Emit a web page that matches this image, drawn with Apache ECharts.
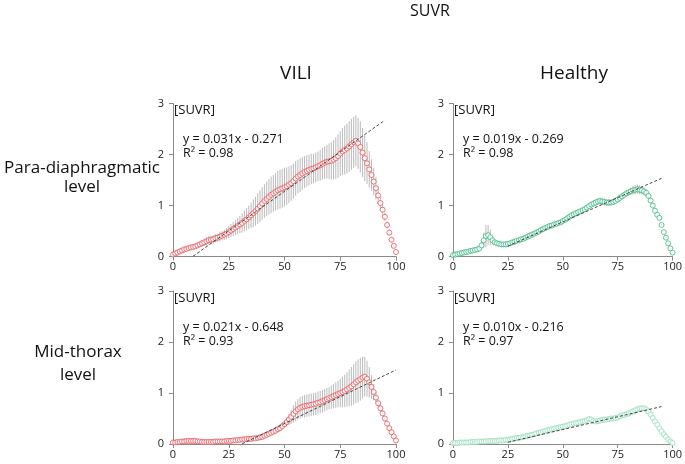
<!DOCTYPE html>
<html><head><meta charset="utf-8">
<script src="https://cdn.jsdelivr.net/npm/echarts@6/dist/echarts.min.js"></script>
<style>html,body{margin:0;padding:0;background:#fff}#c{width:685px;height:464px}</style>
</head><body><div id="c"></div>
<script>
const xs = [0,1,2,3,4,5,6,7,8,9,10,11,12,13,14,15,16,17,18,19,20,21,22,23,24,25,26,27,28,29,30,31,32,33,34,35,36,37,38,39,40,41,42,43,44,45,46,47,48,49,50,51,52,53,54,55,56,57,58,59,60,61,62,63,64,65,66,67,68,69,70,71,72,73,74,75,76,77,78,79,80,81,82,83,84,85,86,87,88,89,90,91,92,93,94,95,96,97,98,99,100];

const viliParaMean = [
0.04,0.06,0.08,0.10,0.12,0.14,0.15,0.17,0.18,0.19,
0.20,0.22,0.24,0.26,0.28,0.30,0.32,0.33,0.34,0.36,
0.37,0.39,0.41,0.43,0.45,0.48,0.51,0.54,0.57,0.60,
0.63,0.66,0.70,0.73,0.77,0.81,0.85,0.89,0.94,0.99,
1.04,1.09,1.13,1.17,1.21,1.24,1.27,1.30,1.32,1.34,
1.36,1.38,1.41,1.44,1.48,1.53,1.57,1.60,1.63,1.66,
1.68,1.70,1.72,1.73,1.75,1.77,1.79,1.82,1.84,1.86,
1.87,1.88,1.90,1.93,1.97,2.02,2.06,2.09,2.12,2.16,
2.20,2.24,2.27,2.22,2.15,2.04,1.93,1.83,1.71,1.60,
1.47,1.34,1.20,1.05,0.92,0.78,0.62,0.47,0.33,0.21,0.09];
const viliParaSD = [
0.02,0.02,0.02,0.02,0.03,0.03,0.03,0.03,0.03,0.04,
0.04,0.05,0.05,0.06,0.07,0.08,0.08,0.08,0.08,0.08,
0.08,0.09,0.09,0.10,0.11,0.12,0.13,0.14,0.15,0.16,
0.17,0.19,0.20,0.22,0.23,0.25,0.27,0.28,0.30,0.31,
0.32,0.33,0.34,0.35,0.36,0.36,0.37,0.38,0.38,0.38,
0.38,0.37,0.36,0.35,0.34,0.34,0.33,0.33,0.32,0.31,
0.31,0.30,0.30,0.29,0.29,0.29,0.30,0.31,0.32,0.33,
0.35,0.37,0.39,0.41,0.43,0.44,0.46,0.48,0.49,0.50,
0.50,0.50,0.50,0.50,0.50,0.48,0.45,0.41,0.36,0.31,
0.27,0.22,0.17,0.13,0.10,0.08,0.07,0.06,0.05,0.04,0.03];

const healthyParaMean = [
0.03,0.04,0.05,0.06,0.07,0.08,0.09,0.10,0.11,0.12,
0.13,0.14,0.16,0.22,0.32,0.40,0.42,0.38,0.32,0.28,
0.26,0.25,0.24,0.24,0.24,0.25,0.26,0.28,0.29,0.31,
0.32,0.34,0.35,0.37,0.39,0.41,0.43,0.45,0.47,0.49,
0.52,0.54,0.56,0.58,0.60,0.61,0.63,0.64,0.66,0.67,
0.70,0.72,0.75,0.78,0.81,0.83,0.85,0.87,0.89,0.91,
0.93,0.96,0.99,1.02,1.04,1.06,1.08,1.09,1.08,1.07,
1.06,1.06,1.06,1.07,1.09,1.12,1.15,1.18,1.21,1.24,
1.26,1.28,1.30,1.31,1.32,1.31,1.30,1.28,1.25,1.19,
1.10,1.00,0.90,0.82,0.76,0.62,0.48,0.37,0.26,0.16,0.08];
const healthyParaSD = [
0.01,0.01,0.01,0.01,0.01,0.01,0.01,0.01,0.01,0.01,
0.01,0.02,0.03,0.08,0.15,0.22,0.20,0.15,0.08,0.04,
0.02,0.02,0.02,0.02,0.02,0.02,0.02,0.02,0.02,0.02,
0.02,0.02,0.02,0.02,0.02,0.02,0.02,0.02,0.02,0.02,
0.02,0.02,0.02,0.02,0.02,0.03,0.03,0.03,0.03,0.03,
0.03,0.03,0.04,0.04,0.04,0.04,0.05,0.05,0.05,0.05,
0.05,0.05,0.05,0.05,0.06,0.06,0.06,0.07,0.07,0.07,
0.07,0.07,0.06,0.06,0.05,0.05,0.04,0.04,0.05,0.05,
0.06,0.07,0.08,0.09,0.09,0.09,0.08,0.08,0.07,0.05,
0.04,0.03,0.03,0.02,0.02,0.02,0.02,0.02,0.01,0.01,0.01];

const viliMidMean = [
0.03,0.03,0.04,0.04,0.05,0.05,0.06,0.06,0.06,0.06,
0.06,0.05,0.05,0.04,0.04,0.04,0.04,0.04,0.04,0.05,
0.05,0.05,0.05,0.05,0.06,0.06,0.06,0.07,0.07,0.08,
0.08,0.09,0.09,0.10,0.10,0.10,0.11,0.11,0.12,0.13,
0.14,0.16,0.18,0.20,0.22,0.24,0.26,0.29,0.31,0.35,
0.39,0.43,0.48,0.53,0.59,0.64,0.68,0.71,0.73,0.74,
0.75,0.76,0.77,0.78,0.79,0.81,0.82,0.84,0.86,0.88,
0.90,0.92,0.94,0.96,0.98,1.00,1.02,1.04,1.07,1.10,
1.13,1.17,1.21,1.24,1.27,1.30,1.32,1.28,1.21,1.12,
1.02,0.91,0.80,0.70,0.60,0.50,0.40,0.31,0.23,0.15,0.07];
const viliMidSD = [
0.01,0.01,0.01,0.01,0.01,0.02,0.02,0.02,0.02,0.02,
0.02,0.02,0.01,0.01,0.01,0.01,0.01,0.01,0.01,0.01,
0.01,0.01,0.01,0.01,0.01,0.01,0.01,0.01,0.02,0.02,
0.02,0.02,0.02,0.02,0.02,0.02,0.02,0.02,0.02,0.02,
0.02,0.02,0.03,0.03,0.03,0.03,0.04,0.04,0.05,0.06,
0.07,0.09,0.11,0.14,0.17,0.19,0.20,0.21,0.21,0.22,
0.22,0.22,0.22,0.22,0.22,0.22,0.22,0.22,0.22,0.22,
0.22,0.23,0.24,0.25,0.26,0.28,0.30,0.32,0.34,0.36,
0.38,0.40,0.41,0.42,0.42,0.41,0.39,0.35,0.30,0.23,
0.16,0.11,0.08,0.06,0.05,0.04,0.03,0.03,0.02,0.02,0.02];

const healthyMidMean = [
0.02,0.02,0.02,0.03,0.03,0.03,0.03,0.03,0.04,0.04,
0.04,0.04,0.05,0.05,0.05,0.05,0.06,0.06,0.06,0.06,
0.06,0.07,0.07,0.07,0.08,0.08,0.09,0.10,0.11,0.12,
0.12,0.13,0.14,0.15,0.16,0.17,0.18,0.19,0.21,0.22,
0.23,0.24,0.26,0.27,0.28,0.29,0.30,0.31,0.32,0.33,
0.34,0.35,0.36,0.38,0.39,0.40,0.41,0.42,0.43,0.44,
0.45,0.47,0.49,0.48,0.45,0.44,0.45,0.46,0.47,0.48,
0.48,0.49,0.50,0.50,0.51,0.52,0.54,0.56,0.57,0.58,
0.60,0.62,0.64,0.66,0.68,0.70,0.70,0.70,0.68,0.64,
0.58,0.51,0.44,0.38,0.31,0.25,0.19,0.14,0.09,0.05,0.02];
const healthyMidSD = [
0.01,0.01,0.01,0.01,0.01,0.01,0.01,0.01,0.01,0.01,
0.01,0.01,0.01,0.01,0.01,0.01,0.01,0.01,0.01,0.01,
0.01,0.01,0.01,0.01,0.01,0.01,0.01,0.01,0.01,0.01,
0.01,0.01,0.01,0.01,0.01,0.01,0.01,0.01,0.01,0.01,
0.01,0.01,0.01,0.01,0.01,0.01,0.01,0.01,0.01,0.01,
0.01,0.01,0.01,0.01,0.01,0.01,0.02,0.02,0.02,0.02,
0.03,0.03,0.04,0.05,0.05,0.05,0.05,0.05,0.05,0.05,
0.05,0.05,0.05,0.05,0.05,0.04,0.03,0.02,0.02,0.02,
0.02,0.02,0.02,0.02,0.02,0.02,0.02,0.02,0.02,0.02,
0.01,0.01,0.01,0.01,0.01,0.01,0.01,0.01,0.01,0.01,0.01];

const mainTitle = 'SUVR';
const columnTitles = ['VILI', 'Healthy'];
const rowTitles = [['Para-diaphragmatic', 'level'], ['Mid-thorax', 'level']];
const unitLabel = '[SUVR]';
const eqTexts = ['y = 0.031x - 0.271', 'y = 0.019x - 0.269', 'y = 0.021x - 0.648', 'y = 0.010x - 0.216'];
const r2Texts = ['R\u00B2 = 0.98', 'R\u00B2 = 0.98', 'R\u00B2 = 0.93', 'R\u00B2 = 0.97'];
const trendSlope = [0.031, 0.019, 0.021, 0.010];
const trendIntercept = [-0.271, -0.269, -0.648, -0.216];
const trendStart = [9, 25, 31, 25];
const trendEnd = [95, 95, 100, 95];

const means = [viliParaMean, healthyParaMean, viliMidMean, healthyMidMean];
const sds = [viliParaSD, healthyParaSD, viliMidSD, healthyMidSD];
const colors = ['#e4585c', '#3fb883', '#e4585c', '#93dcbb'];

const FONT = '"Open Sans", "Noto Sans", sans-serif';
const grids = [
  {left: 173, top: 103.6, width: 223, height: 153},
  {left: 453, top: 103.6, width: 223, height: 153},
  {left: 173, top: 291, width: 223, height: 153},
  {left: 453, top: 291, width: 223, height: 153}
];

const axisCol = '#8a8a8a';
const xAxes = grids.map((g, i) => ({
  type: 'value', gridIndex: i, min: 0, max: 100, interval: 25,
  splitLine: {show: false},
  axisLine: {lineStyle: {color: axisCol, width: 1}},
  axisTick: {show: true, length: 4, lineStyle: {color: axisCol}},
  axisLabel: {color: '#222', fontSize: 11, fontFamily: FONT, margin: 5}
}));
const yAxes = grids.map((g, i) => ({
  type: 'value', gridIndex: i, min: 0, max: 3, interval: 1,
  splitLine: {show: false},
  axisLine: {show: true, onZero: false, lineStyle: {color: axisCol, width: 1}},
  axisTick: {show: true, length: 4, lineStyle: {color: axisCol}},
  axisLabel: {color: '#222', fontSize: 11, fontFamily: FONT, margin: 9}
}));

const series = [];
for (let p = 0; p < 4; p++) {
  const m = means[p], s = sds[p];
  series.push({
    type: 'custom', xAxisIndex: p, yAxisIndex: p, z: 2, silent: true,
    data: xs.map((x, i) => [x, m[i] - s[i], m[i] + s[i]]),
    renderItem: function (params, api) {
      const a = api.coord([api.value(0), api.value(1)]);
      const b = api.coord([api.value(0), api.value(2)]);
      return {type: 'line', shape: {x1: a[0], y1: a[1], x2: b[0], y2: b[1]},
        style: {stroke: '#a8a8a8', lineWidth: 0.8}};
    }
  });
  series.push({
    type: 'scatter', xAxisIndex: p, yAxisIndex: p, z: 3, silent: true,
    symbol: 'circle', symbolSize: 5,
    itemStyle: {color: '#ffffff', borderColor: colors[p], borderWidth: 1},
    data: xs.map((x, i) => [x, m[i]])
  });
  const x0 = trendStart[p], x1 = trendEnd[p];
  series.push({
    type: 'line', xAxisIndex: p, yAxisIndex: p, z: 4, silent: true,
    symbol: 'none',
    lineStyle: {color: '#333', width: 0.9, type: [3, 2]},
    data: [[x0, trendSlope[p] * x0 + trendIntercept[p]], [x1, trendSlope[p] * x1 + trendIntercept[p]]]
  });
}

const graphics = [];
function txt(text, x, y, size, align) {
  graphics.push({type: 'text', x: x, y: y, silent: true,
    style: {text: text, fontSize: size, fontFamily: FONT, fill: '#111',
      align: align || 'left', verticalAlign: 'middle'}});
}
txt(mainTitle, 430, 11, 16, 'center');
txt(columnTitles[0], 296, 74, 19, 'center');
txt(columnTitles[1], 574, 74, 19, 'center');
txt(rowTitles[0][0], 82, 168, 17, 'center');
txt(rowTitles[0][1], 82, 187, 17, 'center');
txt(rowTitles[1][0], 78, 352, 17, 'center');
txt(rowTitles[1][1], 78, 375, 17, 'center');
grids.forEach((g, i) => {
  txt(unitLabel, g.left + 1, g.top + 7, 13, 'left');
  txt(eqTexts[i], g.left + 10, g.top + 36, 12.5, 'left');
  txt(r2Texts[i], g.left + 10, g.top + 50, 12.5, 'left');
});

const chart = echarts.init(document.getElementById('c'), null, {renderer: 'canvas'});
chart.setOption({
  animation: false,
  backgroundColor: '#ffffff',
  grid: grids,
  xAxis: xAxes,
  yAxis: yAxes,
  series: series,
  graphic: graphics
});
</script>
</body></html>
